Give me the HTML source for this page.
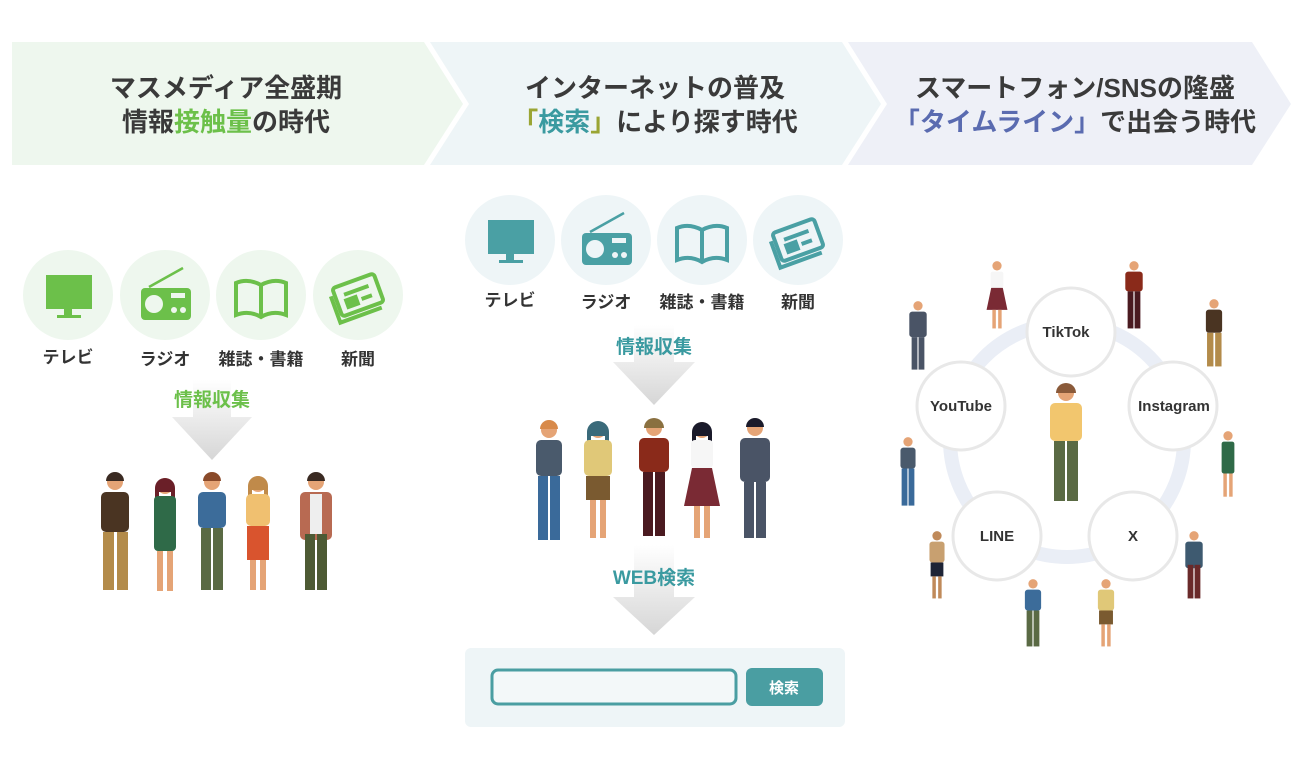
<!DOCTYPE html>
<html><head><meta charset="utf-8"><style>
body{margin:0;background:#fff;}
svg{display:block}
text{font-family:"Liberation Sans","Noto Sans CJK JP",sans-serif;font-weight:bold;}
</style></head><body>
<svg width="1300" height="757" viewBox="0 0 1300 757" xmlns="http://www.w3.org/2000/svg">
<defs>
<linearGradient id="ag" x1="0" y1="0" x2="0" y2="1"><stop offset="0" stop-color="#fff"/><stop offset="1" stop-color="#d6d6d6"/></linearGradient>
</defs>
<!-- banners -->
<polygon points="12,42 424,42 463,104 424,165 12,165" fill="#eef7ee"/>
<polygon points="430,42 842,42 881,104 842,165 430,165 469,104" fill="#eef5f7"/>
<polygon points="848,42 1252,42 1291,104 1252,165 848,165 887,104" fill="#eef0f7"/>
<g font-size="26" text-anchor="middle" fill="#3a3a3a">
<text x="226" y="97">マスメディア全盛期</text>
<text x="226" y="131">情報<tspan fill="#6cc04a">接触量</tspan>の時代</text>
<text x="655" y="97">インターネットの普及</text>
<text x="655" y="131"><tspan fill="#9aa534">「</tspan><tspan fill="#3a9aa0">検索</tspan><tspan fill="#9aa534">」</tspan>により探す時代</text>
<text x="1075" y="97">スマートフォン/SNSの隆盛</text>
<text x="1075" y="131"><tspan fill="#5a6bb0">「タイムライン」</tspan>で出会う時代</text>
</g>

<!-- icon sets -->
<g>
<circle cx="68" cy="295" r="45" fill="#eef7ee"/><circle cx="165" cy="295" r="45" fill="#eef7ee"/><circle cx="261" cy="295" r="45" fill="#eef7ee"/><circle cx="358" cy="295" r="45" fill="#eef7ee"/>
<g fill="#6cc04a" stroke="#6cc04a">
<rect x="46" y="275" width="46" height="34" stroke="none"/><rect x="64" y="309" width="8" height="6" stroke="none"/><rect x="57" y="315" width="24" height="3" stroke="none"/>
<rect x="141" y="288" width="50" height="32" rx="4" stroke="none"/><line x1="149" y1="287" x2="183" y2="268" stroke-width="2.5"/>
<rect x="171" y="293" width="14" height="5" fill="#eef7ee" stroke="none"/><circle cx="174" cy="310" r="3" fill="#eef7ee" stroke="none"/><circle cx="183" cy="310" r="3" fill="#eef7ee" stroke="none"/><circle cx="154" cy="304" r="9" fill="#eef7ee" stroke="none"/>
<path d="M236 283 q12-5 25 2 q13-7 25-2 v32 q-13-5-25 2 q-12-7-25-2 z M261 285 v32" fill="none" stroke-width="4"/>
<g transform="rotate(-20 358 295)" fill="none" stroke-width="4"><rect x="336" y="280" width="44" height="30" rx="3"/><line x1="345" y1="290" x2="371" y2="290"/><rect x="345" y="296" width="10" height="7" fill="#6cc04a"/><line x1="360" y1="300" x2="371" y2="300"/><path d="M332 287 v28 h44"/></g>
</g>
</g>
<g font-size="17" fill="#333" text-anchor="middle"><text x="68" y="363">テレビ</text><text x="165" y="365">ラジオ</text><text x="261" y="365">雑誌・書籍</text><text x="358" y="365">新聞</text></g>
<g transform="translate(447,-55)">
<circle cx="63" cy="295" r="45" fill="#eef5f7"/><circle cx="159" cy="295" r="45" fill="#eef5f7"/><circle cx="255" cy="295" r="45" fill="#eef5f7"/><circle cx="351" cy="295" r="45" fill="#eef5f7"/>
<g fill="#4aa0a4" stroke="#4aa0a4" transform="translate(-5,0)">
<rect x="46" y="275" width="46" height="34" stroke="none"/><rect x="64" y="309" width="8" height="6" stroke="none"/><rect x="57" y="315" width="24" height="3" stroke="none"/>
</g>
<g fill="#4aa0a4" stroke="#4aa0a4" transform="translate(-6,0)">
<rect x="141" y="288" width="50" height="32" rx="4" stroke="none"/><line x1="149" y1="287" x2="183" y2="268" stroke-width="2.5"/>
<rect x="171" y="293" width="14" height="5" fill="#eef5f7" stroke="none"/><circle cx="174" cy="310" r="3" fill="#eef5f7" stroke="none"/><circle cx="183" cy="310" r="3" fill="#eef5f7" stroke="none"/><circle cx="154" cy="304" r="9" fill="#eef5f7" stroke="none"/>
</g>
<g fill="#4aa0a4" stroke="#4aa0a4" transform="translate(-6,0)">
<path d="M236 283 q12-5 25 2 q13-7 25-2 v32 q-13-5-25 2 q-12-7-25-2 z M261 285 v32" fill="none" stroke-width="4"/>
</g>
<g fill="#4aa0a4" stroke="#4aa0a4" transform="translate(-7,0)">
<g transform="rotate(-20 358 295)" fill="none" stroke-width="4"><rect x="336" y="280" width="44" height="30" rx="3"/><line x1="345" y1="290" x2="371" y2="290"/><rect x="345" y="296" width="10" height="7" fill="#4aa0a4"/><line x1="360" y1="300" x2="371" y2="300"/><path d="M332 287 v28 h44"/></g>
</g>
</g>
<g font-size="17" fill="#333" text-anchor="middle"><text x="510" y="306">テレビ</text><text x="606" y="308">ラジオ</text><text x="702" y="308">雑誌・書籍</text><text x="798" y="308">新聞</text></g>

<!-- arrows -->
<path d="M193 380 h38 v37 h21 l-40 43 l-40 -43 h21 z" fill="url(#ag)"/>
<path d="M634 325 h40 v37 h21 l-41 43 l-41 -43 h21 z" fill="url(#ag)"/>
<path d="M634 545 h40 v52 h21 l-41 38 l-41 -38 h21 z" fill="url(#ag)"/>
<g font-size="19" text-anchor="middle"><text x="212" y="406" fill="#6cc04a">情報収集</text><text x="654" y="353" fill="#3a9aa0">情報収集</text><text x="654" y="584" fill="#3a9aa0">WEB検索</text></g>

<!-- search -->
<rect x="465" y="648" width="380" height="79" rx="6" fill="#eef5f7"/>
<rect x="492" y="670" width="244" height="34" rx="6" fill="#f3f8f9" stroke="#4a9ea2" stroke-width="3"/>
<rect x="746" y="668" width="77" height="38" rx="6" fill="#4a9ea2"/>
<text x="784" y="693" font-size="15" fill="#fff" text-anchor="middle">検索</text>

<!-- SNS ring -->
<circle cx="1067" cy="440" r="117" fill="none" stroke="#eaeef6" stroke-width="14"/>
<g fill="#fff" stroke="#e8e8e8" stroke-width="3">
<circle cx="1071" cy="332" r="44"/><circle cx="1173" cy="406" r="44"/><circle cx="1133" cy="536" r="44"/><circle cx="997" cy="536" r="44"/><circle cx="961" cy="406" r="44"/>
</g>
<g font-size="15" fill="#333" text-anchor="middle">
<text x="1066" y="337">TikTok</text><text x="1174" y="411">Instagram</text><text x="1133" y="541">X</text><text x="997" y="541">LINE</text><text x="961" y="411">YouTube</text>
</g>

<!-- people -->
<g>
<g transform="translate(115,472)"><circle cx="0" cy="10" r="8" fill="#e5a476"/><path d="M-9 9a9 9 0 0 1 18 0z" fill="#3a2a22"/><rect x="-14" y="20" width="28" height="40" rx="5" fill="#4a3422"/><rect x="-12" y="60" width="11" height="58" fill="#b38b4a"/><rect x="2" y="60" width="11" height="58" fill="#b38b4a"/></g>
<g transform="translate(165,476)"><circle cx="0" cy="10" r="8" fill="#e5a476"/><path d="M-10 12a10 10 0 0 1 20 0v14h-4v-10h-12v10h-4z" fill="#6a1f28"/><rect x="-11" y="20" width="22" height="55" rx="4" fill="#2f6a48"/><rect x="-8" y="75" width="6" height="40" fill="#e5a476"/><rect x="2" y="75" width="6" height="40" fill="#e5a476"/></g>
<g transform="translate(212,472)"><circle cx="0" cy="10" r="8" fill="#e5a476"/><path d="M-9 9a9 9 0 0 1 18 0z" fill="#8a4a2a"/><rect x="-14" y="20" width="28" height="36" rx="5" fill="#3c6c9a"/><rect x="-11" y="56" width="10" height="62" fill="#5a6a44"/><rect x="1" y="56" width="10" height="62" fill="#5a6a44"/></g>
<g transform="translate(258,474)"><circle cx="0" cy="10" r="8" fill="#e5a476"/><path d="M-10 12a10 10 0 0 1 20 0v12h-4v-8h-12v8h-4z" fill="#c08a4a"/><rect x="-12" y="20" width="24" height="32" rx="5" fill="#f0c070"/><rect x="-11" y="52" width="22" height="34" fill="#d9542e"/><rect x="-8" y="86" width="6" height="30" fill="#e5a476"/><rect x="2" y="86" width="6" height="30" fill="#e5a476"/></g>
<g transform="translate(316,472)"><circle cx="0" cy="10" r="8" fill="#e5a476"/><path d="M-9 9a9 9 0 0 1 18 0z" fill="#3a2a22"/><rect x="-16" y="20" width="32" height="48" rx="5" fill="#b86a52"/><rect x="-6" y="22" width="12" height="40" fill="#eee"/><rect x="-11" y="62" width="10" height="56" fill="#4d5a34"/><rect x="1" y="62" width="10" height="56" fill="#4d5a34"/></g>

<g transform="translate(549,420)"><circle cx="0" cy="10" r="8" fill="#e5a476"/><path d="M-9 9a9 9 0 0 1 18 0z" fill="#d88a4a"/><rect x="-13" y="20" width="26" height="36" rx="5" fill="#4a5a6c"/><rect x="-11" y="56" width="10" height="64" fill="#3a6a9a"/><rect x="1" y="56" width="10" height="64" fill="#3a6a9a"/></g>
<g transform="translate(598,420)"><circle cx="0" cy="10" r="8" fill="#e5a476"/><path d="M-11 12a11 11 0 0 1 22 0v16h-4v-12h-14v12h-4z" fill="#3a6a7a"/><rect x="-14" y="20" width="28" height="36" rx="5" fill="#e0c878"/><rect x="-12" y="56" width="24" height="24" fill="#7a5a30"/><rect x="-8" y="80" width="6" height="38" fill="#e5a476"/><rect x="2" y="80" width="6" height="38" fill="#e5a476"/></g>
<g transform="translate(654,418)"><circle cx="0" cy="10" r="8" fill="#e5a476"/><path d="M-10 10a10 10 0 0 1 20 0z" fill="#8a7040"/><rect x="-15" y="20" width="30" height="34" rx="5" fill="#8a2a1a"/><rect x="-11" y="54" width="10" height="64" fill="#4a1a20"/><rect x="1" y="54" width="10" height="64" fill="#4a1a20"/></g>
<g transform="translate(702,420)"><circle cx="0" cy="10" r="8" fill="#e5a476"/><path d="M-10 12a10 10 0 0 1 20 0v14h-4v-10h-12v10h-4z" fill="#1a1a2a"/><rect x="-11" y="20" width="22" height="28" rx="4" fill="#f6f6f6"/><path d="M-10 48h20l8 38h-36z" fill="#7a2a34"/><rect x="-8" y="86" width="6" height="32" fill="#e5a476"/><rect x="2" y="86" width="6" height="32" fill="#e5a476"/></g>
<g transform="translate(755,418)"><circle cx="0" cy="10" r="8" fill="#e5a476"/><path d="M-9 9a9 9 0 0 1 18 0z" fill="#1a1a2a"/><rect x="-15" y="20" width="30" height="44" rx="5" fill="#4a5466"/><rect x="-11" y="64" width="10" height="56" fill="#4a5466"/><rect x="1" y="64" width="10" height="56" fill="#4a5466"/></g>

<g transform="translate(1066,383)"><circle cx="0" cy="10" r="8" fill="#e5a476"/><path d="M-10 10a10 10 0 0 1 20 0z" fill="#8a5a3a"/><rect x="-16" y="20" width="32" height="38" rx="5" fill="#f2c66e"/><rect x="-12" y="58" width="11" height="60" fill="#5a6a44"/><rect x="1" y="58" width="11" height="60" fill="#5a6a44"/></g>

<g transform="translate(918,300) scale(0.58)"><circle cx="0" cy="10" r="8" fill="#e5a476"/><rect x="-15" y="20" width="30" height="44" rx="5" fill="#4a5466"/><rect x="-11" y="64" width="10" height="56" fill="#4a5466"/><rect x="1" y="64" width="10" height="56" fill="#4a5466"/></g>
<g transform="translate(997,260) scale(0.58)"><circle cx="0" cy="10" r="8" fill="#e5a476"/><rect x="-11" y="20" width="22" height="28" rx="4" fill="#f6f6f6"/><path d="M-10 48h20l8 38h-36z" fill="#7a2a34"/><rect x="-8" y="86" width="6" height="32" fill="#e5a476"/><rect x="2" y="86" width="6" height="32" fill="#e5a476"/></g>
<g transform="translate(1134,260) scale(0.58)"><circle cx="0" cy="10" r="8" fill="#e5a476"/><rect x="-15" y="20" width="30" height="34" rx="5" fill="#8a2a1a"/><rect x="-11" y="54" width="10" height="64" fill="#4a1a20"/><rect x="1" y="54" width="10" height="64" fill="#4a1a20"/></g>
<g transform="translate(1214,298) scale(0.58)"><circle cx="0" cy="10" r="8" fill="#e5a476"/><rect x="-14" y="20" width="28" height="40" rx="5" fill="#4a3422"/><rect x="-12" y="60" width="11" height="58" fill="#b38b4a"/><rect x="2" y="60" width="11" height="58" fill="#b38b4a"/></g>
<g transform="translate(908,436) scale(0.58)"><circle cx="0" cy="10" r="8" fill="#e5a476"/><rect x="-13" y="20" width="26" height="36" rx="5" fill="#4a5a6c"/><rect x="-11" y="56" width="10" height="64" fill="#3a6a9a"/><rect x="1" y="56" width="10" height="64" fill="#3a6a9a"/></g>
<g transform="translate(1228,430) scale(0.58)"><circle cx="0" cy="10" r="8" fill="#e5a476"/><rect x="-11" y="20" width="22" height="55" rx="4" fill="#2f6a48"/><rect x="-8" y="75" width="6" height="40" fill="#e5a476"/><rect x="2" y="75" width="6" height="40" fill="#e5a476"/></g>
<g transform="translate(937,530) scale(0.58)"><circle cx="0" cy="10" r="8" fill="#c08a5a"/><rect x="-13" y="20" width="26" height="36" rx="5" fill="#c8a070"/><rect x="-11" y="56" width="22" height="24" fill="#1e2436"/><rect x="-8" y="80" width="6" height="38" fill="#c08a5a"/><rect x="2" y="80" width="6" height="38" fill="#c08a5a"/></g>
<g transform="translate(1194,530) scale(0.58)"><circle cx="0" cy="10" r="8" fill="#e5a476"/><rect x="-15" y="20" width="30" height="46" rx="5" fill="#3e5a70"/><rect x="-11" y="60" width="10" height="58" fill="#6a2a2a"/><rect x="1" y="60" width="10" height="58" fill="#6a2a2a"/></g>
<g transform="translate(1033,578) scale(0.58)"><circle cx="0" cy="10" r="8" fill="#e5a476"/><rect x="-14" y="20" width="28" height="36" rx="5" fill="#3c6c9a"/><rect x="-11" y="56" width="10" height="62" fill="#5a6a44"/><rect x="1" y="56" width="10" height="62" fill="#5a6a44"/></g>
<g transform="translate(1106,578) scale(0.58)"><circle cx="0" cy="10" r="8" fill="#e5a476"/><rect x="-14" y="20" width="28" height="36" rx="5" fill="#e0c878"/><rect x="-12" y="56" width="24" height="24" fill="#7a5a30"/><rect x="-8" y="80" width="6" height="38" fill="#e5a476"/><rect x="2" y="80" width="6" height="38" fill="#e5a476"/></g>
</g>
</svg>
</body></html>
